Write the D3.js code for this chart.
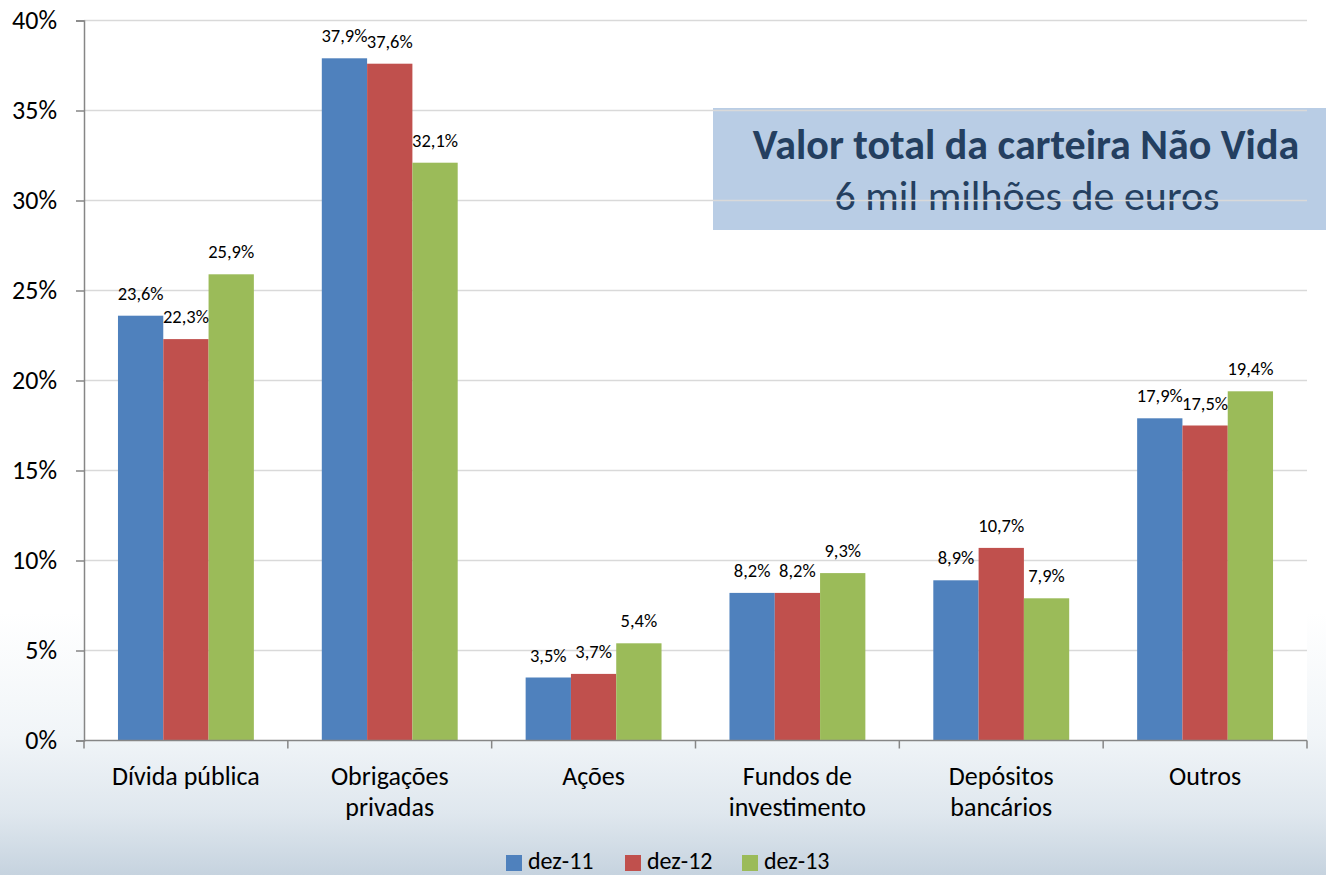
<!DOCTYPE html>
<html>
<head>
<meta charset="utf-8">
<script src="https://cdn.jsdelivr.net/npm/d3@7"></script>
<style>
  html, body { margin: 0; padding: 0; background: #fff; }
  svg { display: block; font-family: Carlito, Lato, "Open Sans", sans-serif; }
</style>
</head>
<body>
<div id="chart"></div>
<script>
const categories = ['Dívida pública', 'Obrigações privadas', 'Ações', 'Fundos de investimento', 'Depósitos bancários', 'Outros'];
const categoryLines = [['Dívida pública'], ['Obrigações', 'privadas'], ['Ações'], ['Fundos de', 'investimento'], ['Depósitos', 'bancários'], ['Outros']];
const seriesNames = ['dez-11', 'dez-12', 'dez-13'];
const seriesColors = ['#4f81bd', '#c0504d', '#9bbb59'];
const dez11 = [23.6, 37.9, 3.5, 8.2, 8.9, 17.9];
const dez12 = [22.3, 37.6, 3.7, 8.2, 10.7, 17.5];
const dez13 = [25.9, 32.1, 5.4, 9.3, 7.9, 19.4];
const yTicks = [0, 5, 10, 15, 20, 25, 30, 35, 40];
const boxTitle = 'Valor total da carteira Não Vida';
const boxSubtitle = '6 mil milhões de euros';

const width = 1326;
const height = 875;
const margin = { top: 20.5, right: 19, bottom: 134.5, left: 84 };
const series = [dez11, dez12, dez13];

const svg = d3.select('#chart').append('svg')
  .attr('width', width)
  .attr('height', height);

// pale sky-like background towards the bottom
const defs = svg.append('defs');
const grad = defs.append('linearGradient')
  .attr('id', 'bg')
  .attr('x1', 0).attr('y1', 0).attr('x2', 0).attr('y2', 1);
grad.append('stop').attr('offset', '0%').attr('stop-color', '#ffffff');
grad.append('stop').attr('offset', '70%').attr('stop-color', '#ffffff');
grad.append('stop').attr('offset', '84%').attr('stop-color', '#f1f5f8');
grad.append('stop').attr('offset', '93%').attr('stop-color', '#dfe7ee');
grad.append('stop').attr('offset', '100%').attr('stop-color', '#c6d3df');
svg.append('rect').attr('width', width).attr('height', height).attr('fill', 'url(#bg)');

const x = d3.scaleBand()
  .domain(categories)
  .range([margin.left, width - margin.right]);

const xInner = d3.scaleBand()
  .domain(seriesNames)
  .range([0, x.bandwidth()])
  .paddingOuter(0.75);

const y = d3.scaleLinear()
  .domain([0, 40])
  .range([height - margin.bottom, margin.top]);

// plot area background
svg.append('rect')
  .attr('x', margin.left)
  .attr('y', margin.top)
  .attr('width', width - margin.left - margin.right)
  .attr('height', height - margin.top - margin.bottom)
  .attr('fill', '#fff');

// info box (sits behind the gridlines)
const box = svg.append('g');
box.append('rect')
  .attr('x', 713)
  .attr('y', 108)
  .attr('width', width - 713)
  .attr('height', 122)
  .attr('fill', '#b9cde5');
box.append('text')
  .attr('x', 1026)
  .attr('y', 159)
  .attr('text-anchor', 'middle')
  .attr('font-size', 42)
  .attr('font-weight', 'bold')
  .attr('fill', '#243f60')
  .text(boxTitle);
box.append('text')
  .attr('x', 1027)
  .attr('y', 210)
  .attr('text-anchor', 'middle')
  .attr('font-size', 42)
  .attr('fill', '#243f60')
  .text(boxSubtitle);

// gridlines
svg.append('g')
  .selectAll('line')
  .data(yTicks.filter(d => d > 0))
  .join('line')
  .attr('x1', margin.left)
  .attr('x2', width - margin.right)
  .attr('y1', d => y(d))
  .attr('y2', d => y(d))
  .attr('stroke', '#d9d9d9')
  .attr('stroke-width', 1.5);

// bars
const groups = svg.append('g')
  .selectAll('g')
  .data(categories)
  .join('g')
  .attr('transform', d => `translate(${x(d)},0)`);

groups.selectAll('rect')
  .data((d, i) => series.map((s, k) => ({ name: seriesNames[k], value: s[i], color: seriesColors[k] })))
  .join('rect')
  .attr('x', d => xInner(d.name))
  .attr('y', d => y(d.value))
  .attr('width', xInner.bandwidth())
  .attr('height', d => y(0) - y(d.value))
  .attr('fill', d => d.color);

groups.selectAll('text')
  .data((d, i) => series.map((s, k) => ({ name: seriesNames[k], value: s[i] })))
  .join('text')
  .attr('x', d => xInner(d.name) + xInner.bandwidth() / 2)
  .attr('y', d => y(d.value) - 16)
  .attr('text-anchor', 'middle')
  .attr('font-size', 18.5)
  .attr('fill', '#000')
  .text(d => d.value.toFixed(1).replace('.', ',') + '%');

// y axis
const yAxis = svg.append('g')
  .attr('transform', `translate(${margin.left},0)`)
  .call(d3.axisLeft(y).tickValues(yTicks).tickSize(8).tickPadding(19).tickFormat(d => d + '%'));
yAxis.select('.domain').attr('stroke', '#868686').attr('stroke-width', 1.5);
yAxis.selectAll('.tick line').attr('stroke', '#868686').attr('stroke-width', 1.5);
yAxis.selectAll('.tick text')
  .attr('font-size', 26)
  .attr('fill', '#000')
  .attr('font-family', 'Carlito, Lato, sans-serif');

// x axis
const baseY = y(0);
svg.append('line')
  .attr('x1', margin.left)
  .attr('x2', width - margin.right)
  .attr('y1', baseY)
  .attr('y2', baseY)
  .attr('stroke', '#868686')
  .attr('stroke-width', 1.5);

const boundaries = categories.map(c => x(c)).concat([width - margin.right]);
svg.append('g')
  .selectAll('line')
  .data(boundaries)
  .join('line')
  .attr('x1', d => d)
  .attr('x2', d => d)
  .attr('y1', baseY)
  .attr('y2', baseY + 8)
  .attr('stroke', '#868686')
  .attr('stroke-width', 1.5);

svg.append('g')
  .selectAll('text')
  .data(categories)
  .join('text')
  .attr('x', d => x(d) + x.bandwidth() / 2)
  .attr('y', 785)
  .attr('text-anchor', 'middle')
  .attr('font-size', 26)
  .attr('fill', '#000')
  .each(function (d, i) {
    const t = d3.select(this);
    categoryLines[i].forEach((line, j) => {
      t.append('tspan')
        .attr('x', x(d) + x.bandwidth() / 2)
        .attr('dy', j === 0 ? 0 : 31)
        .text(line);
    });
  });

// legend
const legendX = [506, 625, 742];
const legend = svg.append('g');
seriesNames.forEach((name, k) => {
  legend.append('rect')
    .attr('x', legendX[k])
    .attr('y', 855)
    .attr('width', 16)
    .attr('height', 16)
    .attr('fill', seriesColors[k]);
  legend.append('text')
    .attr('x', legendX[k] + 22)
    .attr('y', 869)
    .attr('font-size', 24)
    .attr('fill', '#000')
    .text(name);
});
</script>
</body>
</html>
